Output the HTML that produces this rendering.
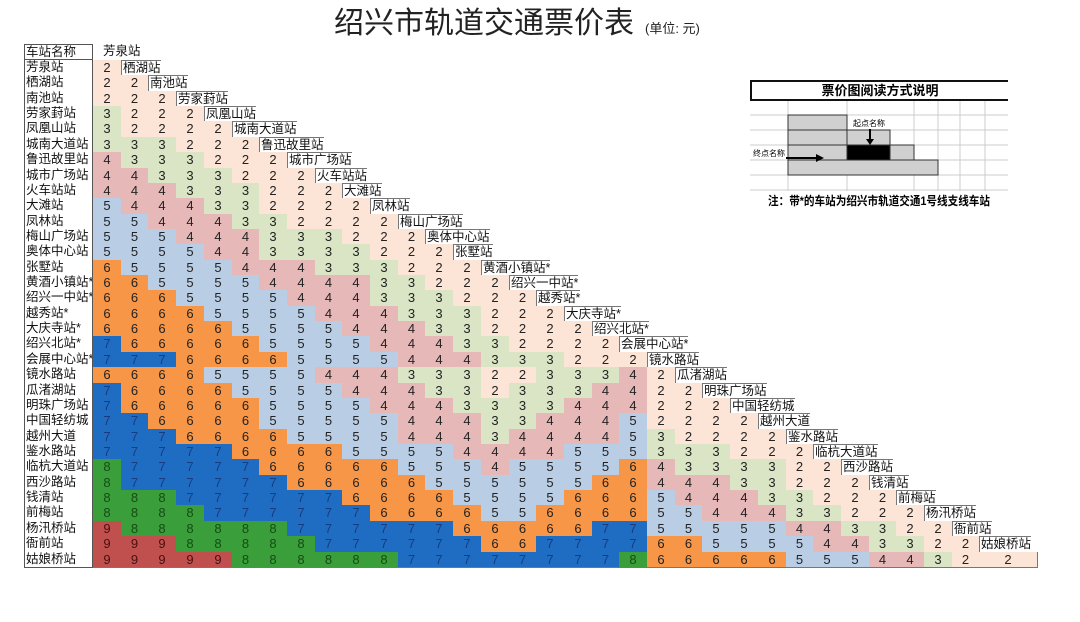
<!DOCTYPE html>
<html><head><meta charset="utf-8">
<style>
html,body{margin:0;padding:0;background:#fff;width:1080px;height:622px;overflow:hidden;position:relative;font-family:"Liberation Sans","Noto Sans CJK SC",sans-serif;}
.a{position:absolute;box-sizing:border-box;}
.c{border:1px solid #777;border-width:0 1px 1px 0;text-align:center;font-size:13px;line-height:15px;color:#222;}
.n{border:1px solid #555;border-top:0;font-size:12.5px;line-height:15px;padding-left:1px;white-space:nowrap;overflow:hidden;color:#111;background:#fff;}
.l{font-size:12.5px;line-height:15px;white-space:nowrap;color:#111;padding-left:2px;}
</style></head><body>
<div class="a" style="left:334px;top:5px;font-size:30px;line-height:38px;color:#222;white-space:nowrap;">绍兴市轨道交通票价表</div>
<div class="a" style="left:645px;top:20px;font-size:13px;line-height:18px;color:#222;white-space:nowrap;">(单位: 元)</div>

<div class="a" style="left:750px;top:80px;width:258px;height:21px;border-top:2px solid #111;border-left:2px solid #111;border-bottom:2px solid #111;text-align:center;font-weight:bold;font-size:13px;line-height:18px;">票价图阅读方式说明</div>
<svg class="a" style="left:750px;top:101px" width="260" height="115">
<g stroke="#ccc" stroke-width="1">
<line x1="0" y1="14" x2="258" y2="14"/><line x1="0" y1="29" x2="258" y2="29"/><line x1="0" y1="44" x2="258" y2="44"/><line x1="0" y1="59" x2="258" y2="59"/><line x1="0" y1="74" x2="258" y2="74"/><line x1="0" y1="89" x2="258" y2="89"/>
<line x1="38" y1="0" x2="38" y2="90"/><line x1="97" y1="0" x2="97" y2="90"/><line x1="164" y1="0" x2="164" y2="90"/><line x1="188" y1="0" x2="188" y2="90"/><line x1="210" y1="0" x2="210" y2="90"/><line x1="235" y1="0" x2="235" y2="90"/>
</g>
<g stroke="#333" stroke-width="1">
<rect x="38" y="14" width="59" height="15" fill="#d0d0d0"/>
<rect x="38" y="29" width="59" height="15" fill="#d0d0d0"/>
<rect x="97" y="29" width="43" height="15" fill="#d0d0d0"/>
<rect x="38" y="44" width="59" height="15" fill="#d0d0d0"/>
<rect x="97" y="44" width="43" height="15" fill="#000"/>
<rect x="140" y="44" width="24" height="15" fill="#d0d0d0"/>
<rect x="38" y="59" width="150" height="15" fill="#d0d0d0"/>
</g>
<text x="103" y="25" font-size="8" font-family="Liberation Sans,Noto Sans CJK SC,sans-serif">起点名称</text>
<line x1="120" y1="28" x2="120" y2="40" stroke="#000" stroke-width="2"/><polygon points="116,38 124,38 120,44" fill="#000"/>
<text x="3" y="55" font-size="8" font-family="Liberation Sans,Noto Sans CJK SC,sans-serif">终点名称</text>
<line x1="36" y1="57" x2="68" y2="57" stroke="#000" stroke-width="2"/><polygon points="66,53 66,61 74,57" fill="#000"/>
<text x="18" y="104" font-size="12" font-weight="bold" textLength="222" lengthAdjust="spacingAndGlyphs" font-family="Liberation Sans,Noto Sans CJK SC,sans-serif">注：带*的车站为绍兴市轨道交通1号线支线车站</text>
</svg>

<div id="t"></div>
<script>
var names=["芳泉站","栖湖站","南池站","劳家葑站","凤凰山站","城南大道站","鲁迅故里站","城市广场站","火车站站","大滩站","凤林站","梅山广场站","奥体中心站","张墅站","黄酒小镇站*","绍兴一中站*","越秀站*","大庆寺站*","绍兴北站*","会展中心站*","镜水路站","瓜渚湖站","明珠广场站","中国轻纺城","越州大道","鉴水路站","临杭大道站","西沙路站","钱清站","前梅站","杨汛桥站","衙前站","姑娘桥站"];
var rows=[
"2","22","222","3222","32222","333222","4333222","44333222","444333222",
"5444332222","55444332222",
"5554443332"+"22",
"5555443333"+"222",
"6555544433"+"3222",
"6655554444"+"33222",
"6665555444"+"333222",
"6666555544"+"4333222",
"6666655554"+"44332222",
"7666665555"+"444332222",
"7776666555"+"5444333222",
"6666555544"+"43332233342",
"7666655554"+"443323334422",
"7666665555"+"444333344422"+"2",
"7766665555"+"544433444522"+"22",
"7776666555"+"544434444532"+"222",
"7777766665"+"555444455533"+"3222",
"8777776666"+"655545555643"+"33322",
"8777777666"+"665555556644"+"433222",
"8887777776"+"666555566654"+"4433222",
"8888777777"+"666655666655"+"44433222",
"9888888777"+"777666667755"+"555443322",
"9998888877"+"777766777766"+"5555443322",
"9999988888"+"877777777866"+"66655544322"
];
var col={2:"#fce4d6",3:"#d9e5c4",4:"#e6b9b8",5:"#b9cde5",6:"#f79646",7:"#1f6dc2",8:"#3a9e3a",9:"#c0504d"};
var tc={2:"#222",3:"#222",4:"#222",5:"#222",6:"#222",7:"#173c80",8:"#154d15",9:"#4a1010"};
var X0=93,W=27.7,Y0=60,H=15.36,h="";
function R(v){return Math.round(v);}
h+='<div class="a n" style="left:24px;top:44px;width:69px;height:16px;border-top:1px solid #555">车站名称</div>';
h+='<div class="a l" style="left:101px;top:44px">芳泉站</div>';
for(var r=0;r<33;r++){
 var y=R(Y0+r*H),y2=R(Y0+(r+1)*H),s=rows[r];
 h+='<div class="a n" style="left:24px;top:'+y+'px;width:69px;height:'+(y2-y+1)+'px">'+names[r]+'</div>';
 for(var c=0;c<s.length;c++){
  var v=+s[c],x=R(X0+c*W),x2=R(X0+(c+1)*W);
  if(r==32&&c==s.length-1){x2=x+58;}
  h+='<div class="a c" style="left:'+x+'px;top:'+y+'px;width:'+(x2-x+1)+'px;height:'+(y2-y+1)+'px;background:'+col[v]+';color:'+tc[v]+'">'+v+'</div>';
 }
 if(r<32){
  var lx=R(X0+s.length*W);
  h+='<div class="a l" style="left:'+lx+'px;top:'+y+'px;border-top:1px solid #777">'+names[r+1]+'</div>';
 }
}
document.getElementById("t").innerHTML=h;
</script>
</body></html>
